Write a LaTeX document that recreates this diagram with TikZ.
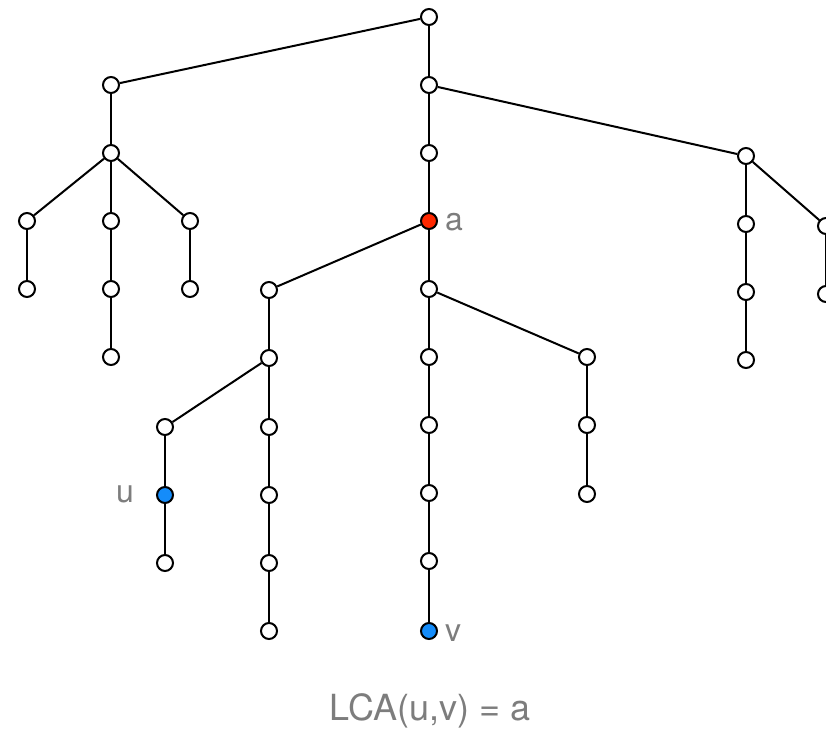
\documentclass[tikz,border=0pt]{standalone}
\usepackage{fontspec}
\setmainfont{TeX Gyre Heros}
\definecolor{labelgray}{RGB}{125,125,125}
\definecolor{hotred}{RGB}{255,40,0}
\definecolor{skyblue}{RGB}{20,140,250}
\begin{document}
\begin{tikzpicture}[x=1pt,y=-1pt,
  vert/.style={circle,draw=black,line width=2pt,fill=white,inner sep=0pt,minimum size=16pt},
  marked/.style={vert,fill=#1},
  edge/.style={line width=2pt},
  lbl/.style={text=labelgray,font=\fontsize{32}{36}\selectfont,inner sep=0pt}]
\useasboundingbox (0,0) rectangle (826,735);
% top levels
\node[vert] (r) at (429,17) {};
\node[vert] (A) at (111,85) {};
\node[vert] (B) at (429,85) {};
% left subtree
\node[vert] (A1) at (111,153) {};
\node[vert] (A1a) at (27,221) {};
\node[vert] (A1b) at (111,221) {};
\node[vert] (A1c) at (190,221) {};
\node[vert] (A1a1) at (27,289) {};
\node[vert] (A1b1) at (111,289) {};
\node[vert] (A1c1) at (190,289) {};
\node[vert] (A1b2) at (111,357) {};
% middle subtree
\node[vert] (B1) at (429,153) {};
\node[marked=hotred] (a) at (429,221) {};
\node[vert] (L) at (269,290) {};
\node[vert] (L1) at (269,358) {};
\node[vert] (U) at (165,427) {};
\node[marked=skyblue] (u) at (165,495) {};
\node[vert] (U2) at (165,563) {};
\node[vert] (L2) at (269,427) {};
\node[vert] (L3) at (269,495) {};
\node[vert] (L4) at (269,563) {};
\node[vert] (L5) at (269,631) {};
\node[vert] (M) at (429,289) {};
\node[vert] (M1) at (429,357) {};
\node[vert] (M2) at (429,425) {};
\node[vert] (M3) at (429,493) {};
\node[vert] (M4) at (429,561) {};
\node[marked=skyblue] (v) at (429,631) {};
\node[vert] (N) at (587,357) {};
\node[vert] (N1) at (587,425) {};
\node[vert] (N2) at (587,494) {};
% right subtree
\node[vert] (C) at (746,156) {};
\node[vert] (C1) at (746,224) {};
\node[vert] (C1a) at (746,292) {};
\node[vert] (C1b) at (746,360) {};
\node[vert] (C2) at (826,226) {};
\node[vert] (C2a) at (826,294) {};
% edges
\foreach \p/\c in {r/A,r/B,A/A1,A1/A1a,A1/A1b,A1/A1c,A1a/A1a1,A1b/A1b1,A1c/A1c1,A1b1/A1b2,
  B/B1,B1/a,a/L,L/L1,L1/U,U/u,u/U2,L1/L2,L2/L3,L3/L4,L4/L5,
  a/M,M/M1,M1/M2,M2/M3,M3/M4,M4/v,M/N,N/N1,N1/N2,
  B/C,C/C1,C1/C1a,C1a/C1b,C/C2,C2/C2a}
  \draw[edge] (\p) -- (\c);
% labels
\node[lbl,anchor=west] (la) at (445,222) {a};
\node[lbl,anchor=east] (lu) at (134,494) {u};
\node[lbl,anchor=west] (lv) at (445,633) {v};
\node[lbl,font=\fontsize{36}{42}\selectfont] (cap) at (430,711) {LCA(u,v) = a};
\end{tikzpicture}
\end{document}
